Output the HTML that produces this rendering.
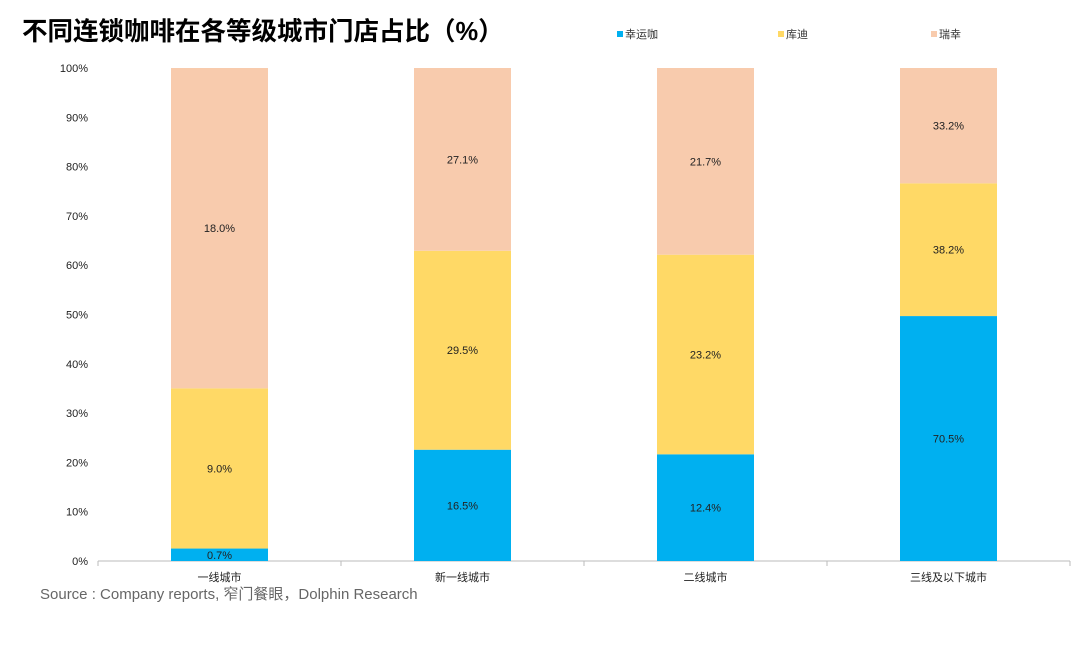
<!DOCTYPE html>
<html><head><meta charset="utf-8">
<style>
html,body{margin:0;padding:0;background:#fff;}
body{width:1080px;height:647px;overflow:hidden;font-family:"Liberation Sans","Noto Sans CJK SC",sans-serif;}
svg text{font-family:"Liberation Sans","Noto Sans CJK SC",sans-serif;}
</style></head>
<body>
<svg id="chart" width="1080" height="647" xmlns="http://www.w3.org/2000/svg">
<text x="22" y="40" font-size="25.5" font-weight="bold" fill="#000">不同连锁咖啡在各等级城市门店占比（%）</text>
<g id="legend"></g>
<g id="axes"></g>
<g id="bars"></g>
<text x="40" y="599" font-size="15" fill="#666">Source : Company reports, 窄门餐眼，Dolphin Research</text>
</svg>
<script>
const categories=["一线城市","新一线城市","二线城市","三线及以下城市"];
const seriesNames=["幸运咖","库迪","瑞幸"];
const luckin=[0.7,16.5,12.4,70.5];
const cotti=[9.0,29.5,23.2,38.2];
const ruixing=[18.0,27.1,21.7,33.2];
const yTicks=[0,10,20,30,40,50,60,70,80,90,100];
const colors=["#00B0F0","#FFD966","#F8CBAD"];
const series=[luckin,cotti,ruixing];
const NS="http://www.w3.org/2000/svg";
const X0=98,X1=1070,Y0=561,Y1=68,barW=97;
const band=(X1-X0)/categories.length;
const xC=i=>X0+band*(i+0.5);
const yS=v=>Y0-(Y0-Y1)*v/100;
function mk(t,a,p){const e=document.createElementNS(NS,t);for(const k in a)e.setAttribute(k,a[k]);p.appendChild(e);return e;}
const axes=document.getElementById('axes');
yTicks.forEach(t=>{
 const l=mk('text',{x:88,y:yS(t)+4,'font-size':11,'text-anchor':'end',fill:'#222'},axes);
 l.textContent=t+'%';
 
 
});
const xl=mk('line',{x1:X0,x2:X1,y1:Y0,y2:Y0,stroke:'#bbb'},axes);


for(let i=0;i<=categories.length;i++){
 const tk=mk('line',{x1:X0+band*i,x2:X0+band*i,y1:Y0,y2:Y0+5,stroke:'#bbb'},axes);
 
 
}
const bars=document.getElementById('bars');
categories.forEach((c,i)=>{
 const total=series.reduce((s,a)=>s+a[i],0);
 let acc=0;
 series.forEach((arr,k)=>{
  const v=arr[i]/total*100;
  const yt=yS(acc+v),yb=yS(acc);
  const r=mk('rect',{x:xC(i)-barW/2,y:yt,width:barW,height:yb-yt,fill:colors[k]},bars);
  
  
  const t=mk('text',{x:xC(i),y:(yt+yb)/2+4,'font-size':11,'text-anchor':'middle',fill:'#222'},bars);
  t.textContent=arr[i].toFixed(1)+'%';
  
  
  acc+=v;
 });
 const ct=mk('text',{x:xC(i),y:Y0+20,'font-size':11,'text-anchor':'middle',fill:'#222'},bars);
 ct.textContent=c;
 
 
});
const lg=document.getElementById('legend');
const lx=[617,778,931];
seriesNames.forEach((n,k)=>{
 const s=mk('rect',{x:lx[k],y:31,width:6,height:6,fill:colors[k]},lg);
 
 
 const t=mk('text',{x:lx[k]+8,y:38,'font-size':11,fill:'#333'},lg);
 t.textContent=n;
 
 
});
</script>
</body></html>
